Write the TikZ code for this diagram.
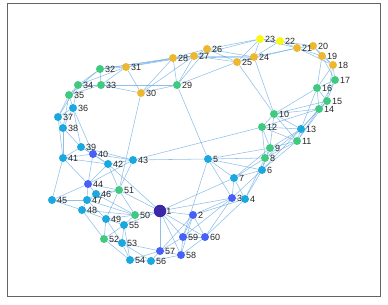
\documentclass[tikz,border=0pt]{standalone}
\usepackage{fontspec}
\setmainfont{Liberation Sans}
\usepackage{xcolor}
\usetikzlibrary{backgrounds}
\definecolor{pDark}{RGB}{62,38,168}
\definecolor{pBlue}{RGB}{72,96,246}
\definecolor{pCyan}{RGB}{26,168,222}
\definecolor{pGreen}{RGB}{64,202,128}
\definecolor{pOrange}{RGB}{236,184,48}
\definecolor{pYellow}{RGB}{248,248,16}
\definecolor{edgeBlue}{RGB}{104,170,226}
\definecolor{frameGray}{RGB}{100,100,100}

\begin{document}
\begin{tikzpicture}[x=1pt, y=-1pt,
  dot/.style={circle, inner sep=0pt, minimum size=8pt},
  bigdot/.style={circle, inner sep=0pt, minimum size=12.5pt},
  lbl/.style={font=\fontsize{9}{10}\selectfont, text=black!85, inner sep=0.6pt},
  edge/.style={edgeBlue, line width=0.55pt, opacity=0.75}]
  \useasboundingbox (0,0) rectangle (388,305);

  % axes frame
  \draw[frameGray, line width=0.9pt] (7,3) rectangle (380,296);

  % hub vertex
  \node[bigdot, fill=pDark, label={[lbl, label distance=-1pt]right:1}] (n1) at (160,211) {};

  % remaining vertices: index / x / y / colour
  \foreach \i/\px/\py/\c in {
    2/193/215/pBlue, 3/232/198/pBlue, 4/245/199/pCyan, 5/208/159/pCyan,
    6/262/170/pCyan, 7/234/178/pCyan, 8/265/158/pGreen, 9/270/148/pGreen,
    10/274/114/pGreen, 11/297/141/pGreen, 12/262/127/pGreen, 13/301/129/pCyan,
    14/319/109/pGreen, 15/327/101/pGreen, 16/317/88/pGreen, 17/335/80/pGreen,
    18/333/65/pOrange, 19/322/56/pOrange, 20/313/46/pOrange, 21/297/48/pOrange,
    22/280/41/pYellow, 23/260/39/pYellow, 24/254/57/pOrange, 25/237/62/pOrange,
    26/207/49/pOrange, 27/194/56/pOrange, 28/173/58/pOrange, 29/177/85/pGreen,
    30/141/93/pOrange, 31/126/67/pOrange, 32/100/69/pGreen, 33/101/85/pGreen,
    34/78/85/pGreen, 35/69/95/pGreen, 36/73/108/pCyan, 37/58/117/pCyan,
    38/63/128/pCyan, 39/81/147/pCyan, 40/93/154/pBlue, 41/63/158/pCyan,
    42/108/164/pCyan, 43/133/160/pCyan, 44/88/184/pBlue, 45/52/200/pCyan,
    46/96/194/pCyan, 47/87/200/pCyan, 48/82/210/pCyan, 49/106/219/pCyan,
    50/135/215/pGreen, 51/119/190/pGreen, 52/104/239/pGreen, 53/122/243/pCyan,
    54/130/260/pCyan, 55/124/225/pCyan, 56/151/261/pCyan, 57/160/251/pBlue,
    58/181/255/pBlue, 59/183/237/pBlue, 60/205/237/pBlue}
    \node[dot, fill=\c, label={[lbl]right:\i}] (n\i) at (\px,\py) {};

  % links, behind the vertices
  \begin{scope}[on background layer]
    \foreach \a/\b in {
      31/32, 31/33, 31/34, 32/33, 32/34, 33/34, 32/35, 34/35, 33/35,
      31/28, 31/27, 32/28, 32/27, 31/30, 33/30, 30/29, 30/28, 30/27, 33/29,
      29/28, 29/27, 29/26, 29/25, 27/28, 27/26, 26/28, 27/25, 26/25, 26/24,
      27/24, 28/24, 26/23, 27/23, 25/23, 25/24, 24/23, 24/22, 23/22, 23/21,
      22/21, 22/20, 24/21, 25/21, 21/20, 21/19, 20/19, 20/18, 19/18, 21/18,
      19/17, 18/17, 19/16, 18/16, 17/16, 17/15, 16/15, 16/14, 17/14, 18/15,
      15/14, 16/13, 15/13, 14/13, 14/11, 15/11, 14/10, 16/10, 15/10, 14/12,
      24/10, 25/10, 13/10, 13/12, 13/11, 13/9, 13/8, 12/10, 12/11, 11/10,
      11/9, 11/8, 10/9, 12/9, 12/8, 9/8, 9/6, 8/6, 11/6, 13/6, 8/7, 6/7,
      9/7, 6/4, 6/3, 8/4, 7/3, 7/4, 3/4, 5/7, 5/6, 5/8, 5/9, 5/3,
      43/5, 43/12, 29/5, 5/59, 3/2, 4/2, 3/60, 4/60, 3/59, 3/1, 7/1,
      2/1, 2/59, 2/60, 2/58, 2/57, 1/59, 1/60, 1/57, 1/58, 59/60, 59/58,
      59/57, 60/58, 58/57, 57/56, 57/54, 56/54, 56/53, 58/56, 57/53, 54/53,
      54/52, 53/52, 55/53, 55/52, 55/49, 55/50, 55/54, 49/52, 49/50, 49/48,
      49/47, 50/51, 50/1, 51/1, 55/1, 50/46, 50/47, 50/48, 51/46, 51/44,
      51/42, 51/47, 51/43, 51/30, 51/49, 46/44, 46/47, 47/44, 47/48, 48/45,
      47/45, 44/45, 45/41, 44/41, 44/40, 44/42, 44/43, 41/39, 41/40, 41/38,
      41/42, 39/40, 39/42, 39/43, 40/42, 40/43, 42/43, 41/37, 38/37, 38/36,
      38/39, 37/36, 37/35, 36/35, 36/34, 37/34, 38/35, 36/39, 36/40, 42/1,
      48/52, 53/49}
      \draw[edge] (n\a) -- (n\b);
  \end{scope}
\end{tikzpicture}
\end{document}
